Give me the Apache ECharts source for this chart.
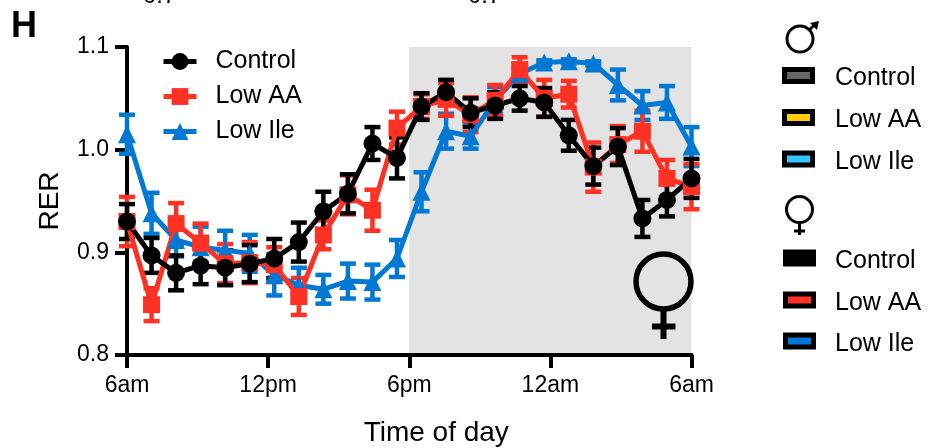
<!DOCTYPE html>
<html><head><meta charset="utf-8">
<style>html,body{margin:0;padding:0;background:#fff}#c{width:934px;height:448px}</style>
<script src="https://cdn.jsdelivr.net/npm/echarts@6/dist/echarts.min.js"></script></head>
<body><div id="c"></div>
<script>
const timeLabels = ['6am','12pm','6pm','12am','6am'];
const pointIndex = [0,1,2,3,4,5,6,7,8,9,10,11,12,13,14,15,16,17,18,19,20,21,22,23];
const controlMean = [0.930,0.897,0.880,0.887,0.885,0.889,0.894,0.910,0.940,0.957,1.006,0.992,1.042,1.056,1.036,1.043,1.050,1.046,1.014,0.984,1.003,0.933,0.951,0.972];
const controlErr  = [0.017,0.017,0.017,0.018,0.017,0.018,0.019,0.019,0.019,0.019,0.016,0.020,0.013,0.012,0.014,0.013,0.012,0.014,0.015,0.018,0.018,0.018,0.016,0.019];
const lowAAMean = [0.930,0.849,0.928,0.909,0.889,0.890,0.888,0.857,0.917,0.956,0.941,1.021,1.042,1.049,1.034,1.048,1.078,1.050,1.054,0.983,1.005,1.018,0.972,0.964];
const lowAAErr  = [0.024,0.016,0.020,0.019,0.019,0.020,0.017,0.018,0.014,0.019,0.020,0.016,0.012,0.016,0.017,0.015,0.012,0.018,0.013,0.024,0.018,0.020,0.018,0.022];
const lowIleMean = [1.015,0.938,0.912,0.905,0.902,0.899,0.878,0.868,0.864,0.872,0.871,0.894,0.959,1.018,1.013,1.048,1.074,1.085,1.086,1.084,1.063,1.043,1.046,1.003];
const lowIleErr  = [0.019,0.020,0.016,0.020,0.019,0.018,0.020,0.017,0.014,0.017,0.017,0.018,0.019,0.017,0.012,0.013,0.006,0.002,0.002,0.002,0.015,0.014,0.016,0.019];
const maleKeys = [['Control','#666666'],['Low AA','#FFCC00'],['Low Ile','#33C5FF']];
const femaleKeys = [['Control','#000000'],['Low AA','#FF3124'],['Low Ile','#0078D4']];
const topCutText = ['0.7','0.7'];

const FONT = '"Liberation Sans", Arial, sans-serif';
const BLACK='#000000', RED='#FF3124', BLUE='#0078D4';

function errSeries(mean, err, color){
  return {
    type:'custom', silent:true, z:3, clip:false, legendHoverLink:false,
    coordinateSystem:'cartesian2d',
    data: mean.map((m,i)=>[pointIndex[i], m-err[i], m+err[i]]),
    encode:{x:0,y:[1,2]},
    renderItem(params, api){
      const lo = api.coord([api.value(0), api.value(1)]);
      const hi = api.coord([api.value(0), api.value(2)]);
      const st = {stroke:color, lineWidth:4.5, fill:null};
      const w = 8;
      return {type:'group', children:[
        {type:'line', shape:{x1:lo[0],y1:lo[1],x2:hi[0],y2:hi[1]}, style:st},
        {type:'line', shape:{x1:lo[0]-w,y1:lo[1],x2:lo[0]+w,y2:lo[1]}, style:st},
        {type:'line', shape:{x1:hi[0]-w,y1:hi[1],x2:hi[0]+w,y2:hi[1]}, style:st}
      ]};
    }
  };
}
function lineSeries(name, mean, color, symbol, size, extra){
  return Object.assign({
    name, type:'line', z:3, clip:false, showSymbol:true, showAllSymbol:true,
    symbol, symbolSize:size, lineStyle:{color, width:5}, itemStyle:{color},
    data: mean.map((m,i)=>[pointIndex[i], m])
  }, extra||{});
}
const keyGraphics = [];
function addKeys(keys, x, ys, tx){
  keys.forEach((k,i)=>{
    keyGraphics.push({type:'rect', shape:{x:x+2.5,y:ys[i]-6,width:28,height:12}, style:{fill:k[1],stroke:'#000',lineWidth:5}});
    keyGraphics.push({type:'text', x:tx, y:ys[i]+3, style:{text:k[0], font:'25px '+FONT, fill:'#000', textVerticalAlign:'middle', textBaseline:'middle'}});
  });
}
addKeys(maleKeys, 782, [75.5,117.5,159], 835);
addKeys(femaleKeys, 783, [258,300,341], 835);
const ln=(x1,y1,x2,y2,w)=>({type:'line',shape:{x1,y1,x2,y2},style:{stroke:'#000',lineWidth:w}});
const ring=(cx,cy,r,w)=>({type:'circle',shape:{cx,cy,r},style:{fill:null,stroke:'#000',lineWidth:w}});
const symbols = [
  ring(800,39,13,3), ln(809,30,816,23.5,3),
  {type:'polygon',shape:{points:[[819,21],[810,23],[817,30]]},style:{fill:'#000'}},
  ring(799.5,209.5,13,3), ln(799.5,222,799.5,235,3), ln(794,231,805,231,3),
  ring(663.5,281.5,27.5,5.5), ln(663.5,309,663.5,339,6), ln(652,326.5,675.5,326.5,6)
];
const chart = echarts.init(document.getElementById('c'), null, {renderer:'canvas'});
chart.setOption({
  animation:false,
  backgroundColor:'#fff',
  grid:{left:127,top:47,width:564.5,height:308,containLabel:false,outerBoundsMode:'none'},
  xAxis:{
    type:'value', min:0, max:23, interval:5.75,
    splitLine:{show:false},
    axisLine:{onZero:false,lineStyle:{color:'#000',width:4}},
    axisTick:{length:13,lineStyle:{color:'#000',width:4}},
    axisLabel:{color:'#000',fontFamily:FONT,fontSize:23,margin:19,showMinLabel:true,showMaxLabel:true,
      formatter:v=>timeLabels[Math.round(v/5.75)]},
    name:'Time of day', nameLocation:'middle', nameGap:64, nameMoveOverlap:false,
    nameTextStyle:{color:'#000',fontFamily:FONT,fontSize:28,padding:[0,0,0,54]}
  },
  yAxis:{
    type:'value', min:0.8, max:1.1, interval:0.1,
    splitLine:{show:false},
    axisLine:{onZero:false,lineStyle:{color:'#000',width:4}},
    axisTick:{length:12,lineStyle:{color:'#000',width:4}},
    axisLabel:{color:'#000',fontFamily:FONT,fontSize:23,margin:18,formatter:v=>v.toFixed(1)},
    name:'RER', nameLocation:'middle', nameGap:63, nameRotate:90, nameMoveOverlap:false,
    nameTextStyle:{color:'#000',fontFamily:FONT,fontSize:28}
  },
  legend:{
    show:true, orient:'vertical', left:161, top:49, padding:0, itemWidth:33, itemHeight:21, itemGap:10,
    data:['Control','Low AA','Low Ile'],
    selectedMode:false,
    lineStyle:{width:5},
    textStyle:{color:'#000',fontFamily:FONT,fontSize:25,padding:[0,0,0,14]}
  },
  series:[
    errSeries(lowIleMean, lowIleErr, BLUE),
    lineSeries('Low Ile', lowIleMean, BLUE, 'triangle', 18, {
      markArea:{silent:true,z:0,itemStyle:{color:'#E3E3E3'},label:{show:false},
        data:[[{xAxis:11.5,yAxis:0.8},{xAxis:23,yAxis:1.1}]]}
    }),
    errSeries(lowAAMean, lowAAErr, RED),
    lineSeries('Low AA', lowAAMean, RED, 'rect', 17),
    errSeries(controlMean, controlErr, BLACK),
    lineSeries('Control', controlMean, BLACK, 'circle', 18)
  ],
  graphic:{elements:[
    {type:'text',x:11,y:9,style:{text:'H',font:'bold 36px '+FONT,fill:'#000'}},
    {type:'text',x:143,y:-16,style:{text:topCutText[0],font:'24px '+FONT,fill:'#000'}},
    {type:'text',x:468,y:-16,style:{text:topCutText[1],font:'24px '+FONT,fill:'#000'}},
    ...keyGraphics, ...symbols
  ].map(e=>Object.assign({silent:true,z:50},e))}
});
</script></body></html>
